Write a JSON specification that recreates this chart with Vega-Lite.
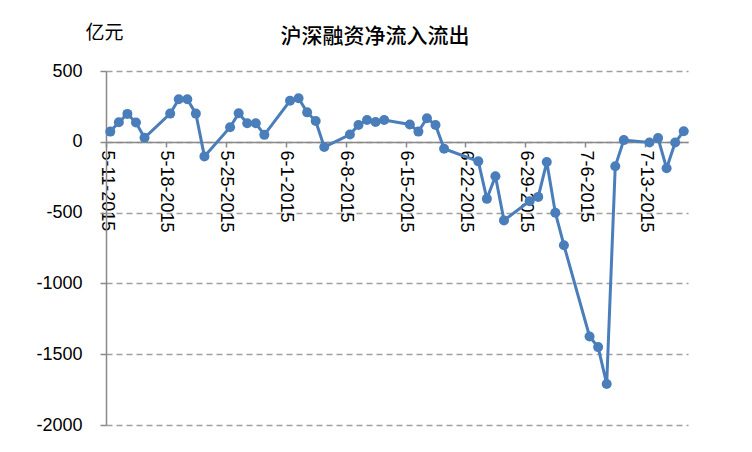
{
  "$schema": "https://vega.github.io/schema/vega-lite/v6.json",
  "autosize": {"type": "none"},
  "width": 582,
  "height": 354,
  "padding": {"left": 106, "top": 71, "right": 64, "bottom": 27},
  "background": "white",
  "title": {
    "text": "沪深融资净流入流出",
    "font": "Noto Sans CJK SC",
    "fontSize": 21,
    "fontWeight": 500,
    "color": "#000000",
    "anchor": "middle",
    "frame": "group",
    "dx": -22,
    "dy": 24,
    "offset": 0
  },
  "data": {
    "values": [
      {"date": "2015-05-11", "value": 72},
      {"date": "2015-05-12", "value": 138},
      {"date": "2015-05-13", "value": 197},
      {"date": "2015-05-14", "value": 136},
      {"date": "2015-05-15", "value": 28},
      {"date": "2015-05-18", "value": 199},
      {"date": "2015-05-19", "value": 300},
      {"date": "2015-05-20", "value": 300},
      {"date": "2015-05-21", "value": 199},
      {"date": "2015-05-22", "value": -103},
      {"date": "2015-05-25", "value": 103},
      {"date": "2015-05-26", "value": 201},
      {"date": "2015-05-27", "value": 131},
      {"date": "2015-05-28", "value": 131},
      {"date": "2015-05-29", "value": 49},
      {"date": "2015-06-01", "value": 290},
      {"date": "2015-06-02", "value": 307},
      {"date": "2015-06-03", "value": 208},
      {"date": "2015-06-04", "value": 147},
      {"date": "2015-06-05", "value": -37},
      {"date": "2015-06-08", "value": 51},
      {"date": "2015-06-09", "value": 119},
      {"date": "2015-06-10", "value": 154},
      {"date": "2015-06-11", "value": 140},
      {"date": "2015-06-12", "value": 154},
      {"date": "2015-06-15", "value": 122},
      {"date": "2015-06-16", "value": 72},
      {"date": "2015-06-17", "value": 166},
      {"date": "2015-06-18", "value": 119},
      {"date": "2015-06-19", "value": -49},
      {"date": "2015-06-23", "value": -138},
      {"date": "2015-06-24", "value": -403},
      {"date": "2015-06-25", "value": -243},
      {"date": "2015-06-26", "value": -555},
      {"date": "2015-06-29", "value": -419},
      {"date": "2015-06-30", "value": -389},
      {"date": "2015-07-01", "value": -143},
      {"date": "2015-07-02", "value": -501},
      {"date": "2015-07-03", "value": -730},
      {"date": "2015-07-06", "value": -1375},
      {"date": "2015-07-07", "value": -1450},
      {"date": "2015-07-08", "value": -1710},
      {"date": "2015-07-09", "value": -173},
      {"date": "2015-07-10", "value": 12},
      {"date": "2015-07-13", "value": -5},
      {"date": "2015-07-14", "value": 26},
      {"date": "2015-07-15", "value": -187},
      {"date": "2015-07-16", "value": -5},
      {"date": "2015-07-17", "value": 75}
    ]
  },
  "mark": {
    "type": "line",
    "color": "#4a7ebb",
    "strokeWidth": 3,
    "point": {"filled": true, "size": 100, "color": "#4a7ebb"}
  },
  "encoding": {
    "x": {
      "field": "date",
      "type": "temporal",
      "timeUnit": {"unit": "yearmonthdate", "utc": true},
      "bandPosition": 0.5,
      "scale": {
        "type": "utc",
        "domain": [
          {"year": 2015, "month": 5, "date": 11, "utc": true},
          {"year": 2015, "month": 7, "date": 18, "utc": true}
        ]
      },
      "axis": {
        "title": null,
        "orient": "bottom",
        "offset": -283,
        "grid": false,
        "values": [
          {"year": 2015, "month": 5, "date": 11, "utc": true},
          {"year": 2015, "month": 5, "date": 18, "utc": true},
          {"year": 2015, "month": 5, "date": 25, "utc": true},
          {"year": 2015, "month": 6, "date": 1, "utc": true},
          {"year": 2015, "month": 6, "date": 8, "utc": true},
          {"year": 2015, "month": 6, "date": 15, "utc": true},
          {"year": 2015, "month": 6, "date": 22, "utc": true},
          {"year": 2015, "month": 6, "date": 29, "utc": true},
          {"year": 2015, "month": 7, "date": 6, "utc": true},
          {"year": 2015, "month": 7, "date": 13, "utc": true}
        ],
        "format": "%-m-%-d-%Y",
        "labelAngle": 90,
        "labelAlign": "left",
        "labelBaseline": "middle",
        "labelPadding": 3,
        "labelFont": "Liberation Sans",
        "labelFontSize": 18,
        "labelColor": "#000000",
        "labelOverlap": false,
        "labelFlush": false,
        "domainColor": "#898989",
        "domainWidth": 1.5,
        "tickColor": "#898989",
        "tickWidth": 1.5,
        "tickSize": 5
      }
    },
    "y": {
      "field": "value",
      "type": "quantitative",
      "scale": {"domain": [-2000, 500], "nice": false, "zero": false},
      "axis": {
        "values": [500, 0, -500, -1000, -1500, -2000],
        "labelExpr": "'' + datum.value",
        "title": "亿元",
        "titleAngle": 0,
        "titleAlign": "left",
        "titleBaseline": "middle",
        "titleX": -21,
        "titleY": -39,
        "titleFont": "Noto Sans CJK SC",
        "titleFontSize": 19,
        "titleFontWeight": "normal",
        "titleColor": "#000000",
        "grid": true,
        "gridColor": "#a0a0a0",
        "gridDash": [6, 4],
        "gridWidth": 1.3,
        "domainColor": "#898989",
        "domainWidth": 1.5,
        "tickColor": "#898989",
        "tickWidth": 1.5,
        "tickSize": 6,
        "labelPadding": 18,
        "labelFont": "Liberation Sans",
        "labelFontSize": 18,
        "labelColor": "#000000"
      }
    }
  },
  "config": {
    "view": {"stroke": null}
  }
}
